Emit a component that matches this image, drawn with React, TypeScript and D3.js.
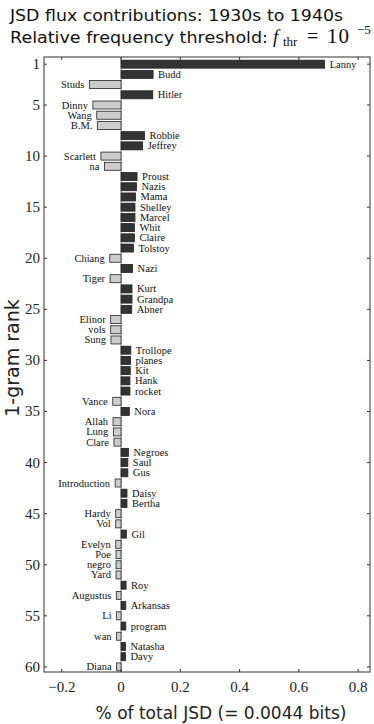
import React from "react";
import * as d3 from "d3";

const words = ["Lanny","Budd","Studs","Hitler","Dinny","Wang","B.M.","Robbie","Jeffrey","Scarlett","na","Proust","Nazis","Mama","Shelley","Marcel","Whit","Claire","Tolstoy","Chiang","Nazi","Tiger","Kurt","Grandpa","Abner","Elinor","vols","Sung","Trollope","planes","Kit","Hank","rocket","Vance","Nora","Allah","Lung","Clare","Negroes","Saul","Gus","Introduction","Daisy","Bertha","Hardy","Vol","Gil","Evelyn","Poe","negro","Yard","Roy","Augustus","Arkansas","Li","program","wan","Natasha","Davy","Diana"];
const values = [0.687,0.108,-0.107,0.107,-0.095,-0.082,-0.080,0.079,0.073,-0.068,-0.056,0.054,0.052,0.049,0.047,0.047,0.045,0.045,0.042,-0.038,0.039,-0.037,0.037,0.037,0.036,-0.035,-0.035,-0.034,0.033,0.032,0.031,0.030,0.030,-0.028,0.028,-0.027,-0.026,-0.024,0.025,0.023,0.023,-0.020,0.020,0.020,-0.018,-0.018,0.018,-0.018,-0.017,-0.017,-0.017,0.017,-0.016,0.016,-0.015,0.016,-0.015,0.015,0.015,-0.015];
const xTicks = [-0.2,0,0.2,0.4,0.6,0.8];
const yTicks = [1,5,10,15,20,25,30,35,40,45,50,55,60];

export default function App() {
  const L = 44, R = 370, T = 57, B = 672;
  const x = d3.scaleLinear().domain([-0.26, 0.84]).range([L, R]);
  const y = d3.scaleLinear().domain([0.3, 60.5]).range([T, B]);
  const bh = 8;
  const serif = "'Liberation Serif', 'DejaVu Serif', serif";
  const sans = "'DejaVu Sans', sans-serif";
  const fmt = (v: number) => (v === 0 ? "0" : (v < 0 ? "\u2212" : "") + Math.abs(v).toFixed(1));
  return (
    <svg width={374} height={724} style={{ position: "absolute", left: 0, top: 0, background: "#fff" }}>
      <text x={10} y={21} fontFamily={sans} fontSize={16} fill="#111" textLength={333} lengthAdjust="spacingAndGlyphs">JSD flux contributions: 1930s to 1940s</text>
      <text x={10} y={43} fontFamily={sans} fontSize={16} fill="#111" textLength={258} lengthAdjust="spacingAndGlyphs">Relative frequency threshold:</text>
      <g fontFamily={serif} fill="#111">
        <text x={273} y={43} fontSize={19} fontStyle="italic">f</text>
        <text x={283} y={46} fontSize={13}>thr</text>
        <text x={307} y={43} fontSize={20}>=</text>
        <text x={327} y={43} fontSize={21} letterSpacing={1}>10</text>
        <text x={357} y={34} fontSize={13}>{"\u22125"}</text>
      </g>
      <line x1={x(0)} x2={x(0)} y1={T} y2={B} stroke="#999" strokeWidth={1} />
      {values.map((v, i) => {
        const x0 = x(Math.min(0, v)), x1 = x(Math.max(0, v));
        const yc = y(i + 1);
        return (
          <g key={i}>
            <rect x={x0} y={yc - bh / 2} width={x1 - x0} height={bh} fill={v > 0 ? "#333" : "#ccc"} stroke="#222" strokeWidth={0.8} />
            <text x={v > 0 ? x1 + 5 : x0 - 5} y={yc + 3.5} textAnchor={v > 0 ? "start" : "end"} fontFamily={serif} fontSize={10.5} fill="#111">{words[i]}</text>
          </g>
        );
      })}
      <rect x={L} y={T} width={R - L} height={B - T} fill="none" stroke="#333" strokeWidth={1} />
      {xTicks.map((t) => (
        <g key={t}>
          <line x1={x(t)} x2={x(t)} y1={T} y2={T + 3} stroke="#333" />
          <line x1={x(t)} x2={x(t)} y1={B} y2={B - 3} stroke="#333" />
          <text x={x(t)} y={692} textAnchor="middle" fontFamily={serif} fontSize={15} fill="#222">{fmt(t)}</text>
        </g>
      ))}
      {yTicks.map((t) => (
        <g key={t}>
          <line x1={L} x2={L + 3} y1={y(t)} y2={y(t)} stroke="#333" />
          <line x1={R} x2={R - 3} y1={y(t)} y2={y(t)} stroke="#333" />
          <text x={40} y={y(t) + 5} textAnchor="end" fontFamily={serif} fontSize={15} fill="#222">{t}</text>
        </g>
      ))}
      <text transform="translate(19,358) rotate(-90)" textAnchor="middle" fontFamily={sans} fontSize={19} fill="#222">1-gram rank</text>
      <text x={221} y={719} textAnchor="middle" fontFamily={sans} fontSize={17} fill="#222">% of total JSD (= 0.0044 bits)</text>
    </svg>
  );
}
